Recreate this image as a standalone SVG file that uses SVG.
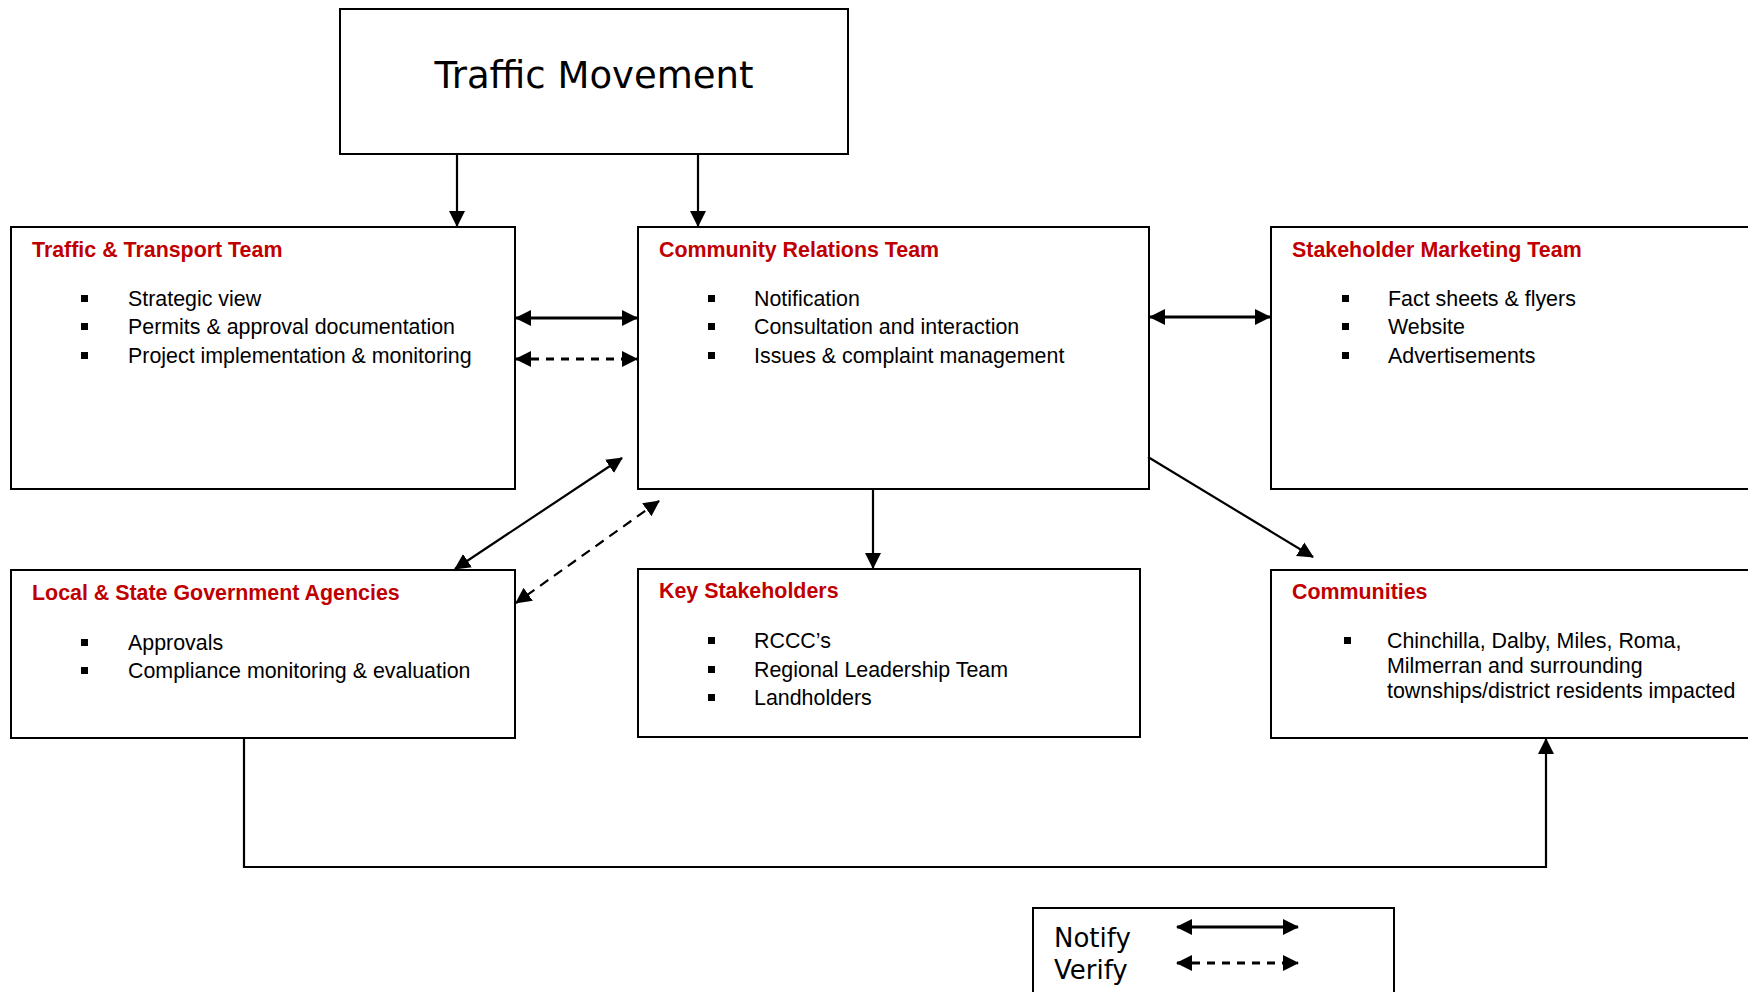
<svg xmlns="http://www.w3.org/2000/svg" width="1748" height="992" viewBox="0 0 1748 992">
<style>
.box{fill:#fff;stroke:#000;stroke-width:2}
.title{font-family:"Liberation Sans",Arial,sans-serif;font-weight:bold;font-size:21.4px;fill:#C00000}
.body{font-family:"Liberation Sans",Arial,sans-serif;font-size:21.4px;fill:#000}
.big{font-family:"DejaVu Sans",Verdana,sans-serif;fill:#000}
.conn{fill:none;stroke:#000;stroke-width:2.2}
.thick{stroke-width:2.8}
.dash{stroke-dasharray:8 7}
.dashd{stroke-dasharray:10 7}
.bul{fill:#000}
</style>
<defs>
<marker id="ah" viewBox="0 0 16 16" refX="15" refY="8" markerWidth="16" markerHeight="16" markerUnits="userSpaceOnUse" orient="auto-start-reverse">
<path d="M0,0 L16,8 L0,16 z" fill="#000"/>
</marker>
</defs>
<rect width="1748" height="992" fill="#fff"/>

<g id="traffic-movement">
<rect class="box" x="340" y="9" width="508" height="145"/>
<text class="big" x="594" y="88" font-size="37" text-anchor="middle">Traffic Movement</text>
</g>

<g id="traffic-transport">
<rect class="box" x="11" y="227" width="504" height="262"/>
<text class="title" x="32" y="257">Traffic &amp; Transport Team</text>
<rect class="bul" x="81" y="295" width="7" height="7"/>
<rect class="bul" x="81" y="323" width="7" height="7"/>
<rect class="bul" x="81" y="352" width="7" height="7"/>
<text class="body" x="128" y="306">Strategic view</text>
<text class="body" x="128" y="334">Permits &amp; approval documentation</text>
<text class="body" x="128" y="363">Project implementation &amp; monitoring</text>
</g>

<g id="community-relations">
<rect class="box" x="638" y="227" width="511" height="262"/>
<text class="title" x="659" y="257">Community Relations Team</text>
<rect class="bul" x="708" y="295" width="7" height="7"/>
<rect class="bul" x="708" y="323" width="7" height="7"/>
<rect class="bul" x="708" y="352" width="7" height="7"/>
<text class="body" x="754" y="306">Notification</text>
<text class="body" x="754" y="334">Consultation and interaction</text>
<text class="body" x="754" y="363">Issues &amp; complaint management</text>
</g>

<g id="stakeholder-marketing">
<rect class="box" x="1271" y="227" width="500" height="262"/>
<text class="title" x="1292" y="257">Stakeholder Marketing Team</text>
<rect class="bul" x="1342" y="295" width="7" height="7"/>
<rect class="bul" x="1342" y="323" width="7" height="7"/>
<rect class="bul" x="1342" y="352" width="7" height="7"/>
<text class="body" x="1388" y="306">Fact sheets &amp; flyers</text>
<text class="body" x="1388" y="334">Website</text>
<text class="body" x="1388" y="363">Advertisements</text>
</g>

<g id="local-state">
<rect class="box" x="11" y="570" width="504" height="168"/>
<text class="title" x="32" y="600">Local &amp; State Government Agencies</text>
<rect class="bul" x="81" y="639" width="7" height="7"/>
<rect class="bul" x="81" y="667" width="7" height="7"/>
<text class="body" x="128" y="650">Approvals</text>
<text class="body" x="128" y="678">Compliance monitoring &amp; evaluation</text>
</g>

<g id="key-stakeholders">
<rect class="box" x="638" y="569" width="502" height="168"/>
<text class="title" x="659" y="598">Key Stakeholders</text>
<rect class="bul" x="708" y="637" width="7" height="7"/>
<rect class="bul" x="708" y="666" width="7" height="7"/>
<rect class="bul" x="708" y="694" width="7" height="7"/>
<text class="body" x="754" y="648">RCCC’s</text>
<text class="body" x="754" y="677">Regional Leadership Team</text>
<text class="body" x="754" y="705">Landholders</text>
</g>

<g id="communities">
<rect class="box" x="1271" y="570" width="500" height="168"/>
<text class="title" x="1292" y="599">Communities</text>
<rect class="bul" x="1344" y="637" width="7" height="7"/>
<text class="body" x="1387" y="648">Chinchilla, Dalby, Miles, Roma,</text>
<text class="body" x="1387" y="673">Milmerran and surrounding</text>
<text class="body" x="1387" y="698">townships/district residents impacted</text>
</g>

<g id="legend">
<rect class="box" x="1033" y="908" width="361" height="100"/>
<text class="big" x="1054" y="947" font-size="26">Notify</text>
<text class="big" x="1054" y="979" font-size="26">Verify</text>
<line class="conn thick" x1="1177" y1="927" x2="1298" y2="927" marker-start="url(#ah)" marker-end="url(#ah)"/>
<line class="conn thick dash" x1="1177" y1="963" x2="1298" y2="963" marker-start="url(#ah)" marker-end="url(#ah)"/>
</g>

<g id="connectors">
<line class="conn" x1="457" y1="154" x2="457" y2="226" marker-end="url(#ah)"/>
<line class="conn" x1="698" y1="154" x2="698" y2="226" marker-end="url(#ah)"/>
<line class="conn thick" x1="516" y1="318" x2="637" y2="318" marker-start="url(#ah)" marker-end="url(#ah)"/>
<line class="conn thick dash" x1="516" y1="359" x2="637" y2="359" marker-start="url(#ah)" marker-end="url(#ah)"/>
<line class="conn thick" x1="1150" y1="317" x2="1270" y2="317" marker-start="url(#ah)" marker-end="url(#ah)"/>
<line class="conn" x1="622" y1="458" x2="455" y2="569" marker-start="url(#ah)" marker-end="url(#ah)"/>
<line class="conn dashd" x1="659" y1="501" x2="516" y2="603" marker-start="url(#ah)" marker-end="url(#ah)"/>
<line class="conn" x1="873" y1="489" x2="873" y2="568" marker-end="url(#ah)"/>
<line class="conn" x1="1148" y1="457" x2="1313" y2="557" marker-end="url(#ah)"/>
<polyline class="conn" points="244,738 244,867 1546,867 1546,739" marker-end="url(#ah)"/>
</g>
</svg>
